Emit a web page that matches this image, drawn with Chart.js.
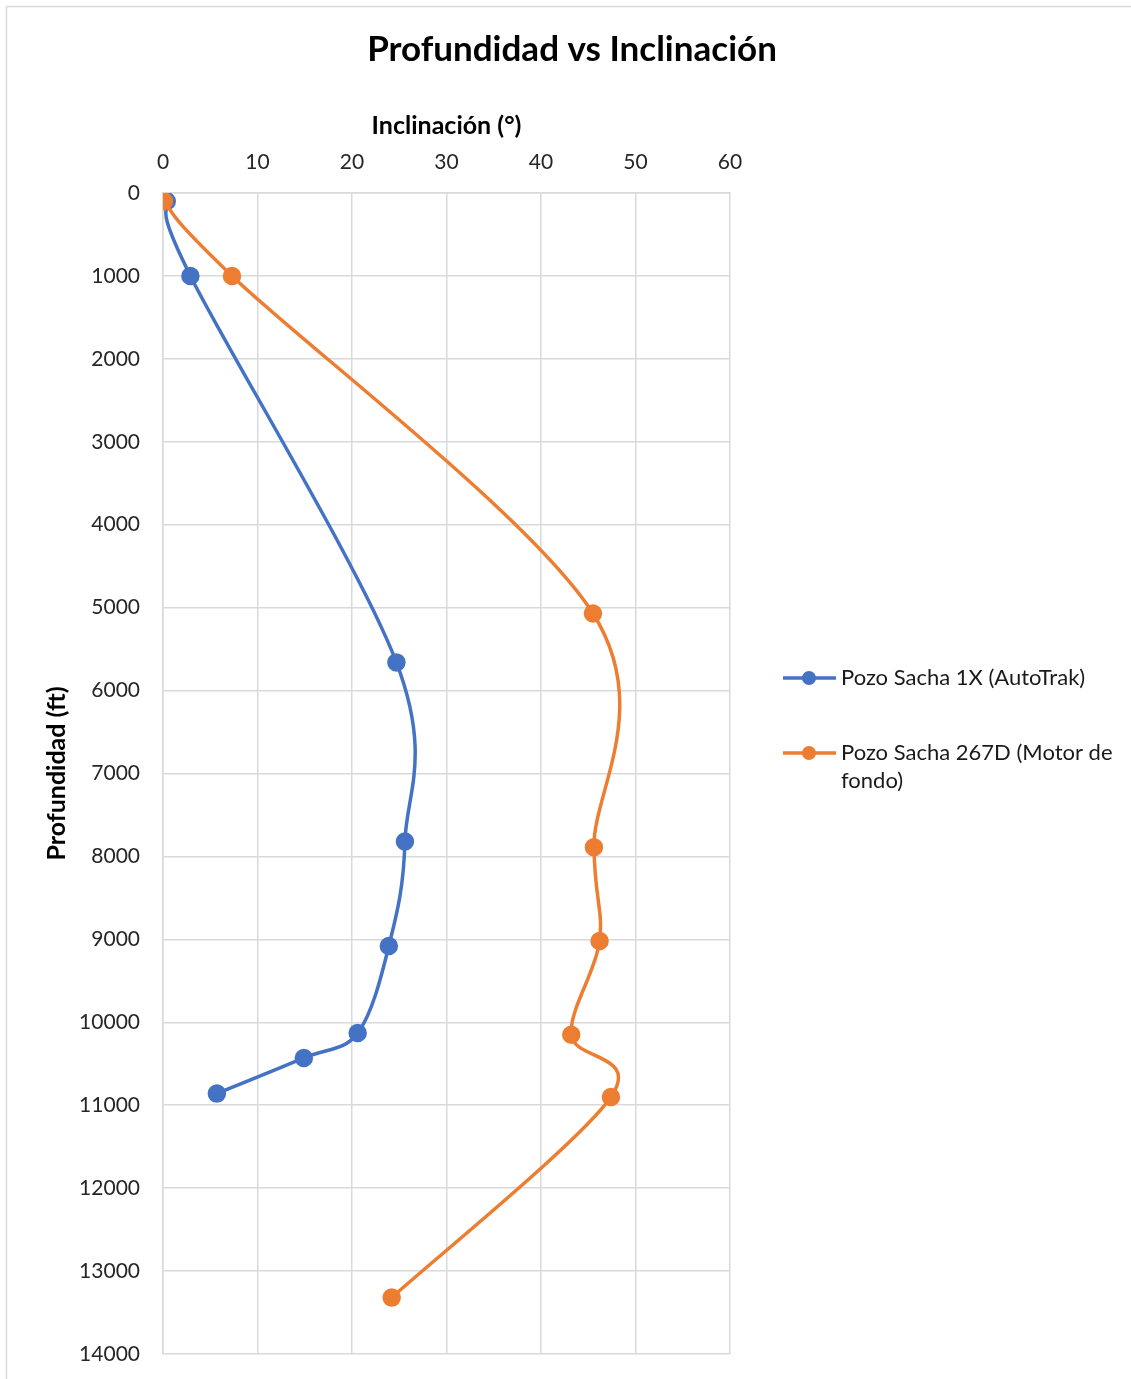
<!DOCTYPE html>
<html>
<head>
<meta charset="utf-8">
<script src="https://cdn.jsdelivr.net/npm/chart.js@4.4.1/dist/chart.umd.min.js"></script>
<style>
  html, body { margin: 0; padding: 0; background: #fff; }
  #wrap { width: 1131px; height: 1379px; position: relative; }
</style>
</head>
<body>
<div id="wrap"><canvas id="chart"></canvas></div>
<script>
// data
const chartTitle = "Profundidad vs Inclinación";
const seriesNames = ["Pozo Sacha 1X (AutoTrak)", "Pozo Sacha 267D (Motor de fondo)"];
const seriesColors = ["#4472C4", "#ED7D31"];

const sacha1xIncl = [0.4, 2.9, 24.7, 25.6, 23.9, 20.6, 14.9, 5.7];
const sacha1xDepth = [100, 1000, 5660, 7820, 9080, 10130, 10430, 10860];

const sacha267dIncl = [0.1, 7.3, 45.5, 45.6, 46.2, 43.2, 47.4, 24.2];
const sacha267dDepth = [100, 1000, 5070, 7890, 9020, 10150, 10900, 13320];

const inclTicks = [0, 60, 10];     // min, max, step
const depthTicks = [0, 14000, 1000];

function toPoints(xs, ys) {
    return xs.map((x, i) => ({ x: x, y: ys[i] }));
}

// excel style smoothing: plain catmull-rom (1/6 of neighbour chord), not the
// distance weighted one chart.js uses
const excelSmooth = {
    id: "excelSmooth",
    beforeDatasetDraw(chart, args) {
        const pts = args.meta.data;
        const k = 1 / 6;
        for (let i = 0; i < pts.length; i++) {
            const p = pts[i];
            const prev = pts[i - 1] || p;
            const next = pts[i + 1] || p;
            const dx = (next.x - prev.x) * k;
            const dy = (next.y - prev.y) * k;
            p.cp1x = p.x - dx;
            p.cp1y = p.y - dy;
            p.cp2x = p.x + dx;
            p.cp2y = p.y + dy;
        }
        args.meta.dataset._pointsUpdated = true;
    }
};

// chart frame + main title
const frame = {
    id: "frame",
    beforeDraw(chart) {
        const ctx = chart.ctx;
        ctx.save();
        ctx.strokeStyle = "#d9d9d9";
        ctx.lineWidth = 1.5;
        ctx.strokeRect(6.5, 6.5, chart.width + 20, chart.height + 20);
        ctx.restore();
    },
    afterDraw(chart) {
        const ctx = chart.ctx;
        ctx.save();
        ctx.fillStyle = "#000";
        ctx.font = "bold 35px Lato";
        ctx.textAlign = "center";
        ctx.textBaseline = "middle";
        ctx.fillText(chartTitle, 572, 50);
        ctx.restore();
    }
};

// legend on the right, with wrapped text
const sideLegend = {
    id: "sideLegend",
    afterDraw(chart) {
        const ctx = chart.ctx;
        const x0 = 783, y0 = 678, gap = 75, lineH = 28, maxW = 285;
        ctx.save();
        ctx.font = "22px Lato";
        ctx.textBaseline = "middle";
        chart.data.datasets.forEach((ds, i) => {
            const y = y0 + i * gap;
            ctx.strokeStyle = ds.borderColor;
            ctx.lineWidth = 3.5;
            ctx.beginPath();
            ctx.moveTo(x0, y);
            ctx.lineTo(x0 + 53, y);
            ctx.stroke();
            ctx.fillStyle = ds.backgroundColor;
            ctx.beginPath();
            ctx.arc(x0 + 26, y, 7, 0, Math.PI * 2);
            ctx.fill();

            // wrap words
            const words = ds.label.split(" ");
            const lines = [];
            let cur = "";
            words.forEach(w => {
                const test = cur ? cur + " " + w : w;
                if (ctx.measureText(test).width > maxW && cur) {
                    lines.push(cur);
                    cur = w;
                } else {
                    cur = test;
                }
            });
            lines.push(cur);
            ctx.fillStyle = "#1a1a1a";
            lines.forEach((l, j) => ctx.fillText(l, x0 + 58, y + j * lineH));
        });
        ctx.restore();
    }
};

Chart.defaults.font.family = "Lato";
Chart.defaults.color = "#262626";

new Chart(document.getElementById("chart"), {
    type: "scatter",
    data: {
        datasets: [
            {
                label: seriesNames[0],
                data: toPoints(sacha1xIncl, sacha1xDepth),
                borderColor: seriesColors[0],
                backgroundColor: seriesColors[0],
                showLine: true,
                tension: 0.4,
                borderWidth: 3.5,
                pointRadius: 7.5,
                pointHoverRadius: 7.5,
                order: 1
            },
            {
                label: seriesNames[1],
                data: toPoints(sacha267dIncl, sacha267dDepth),
                borderColor: seriesColors[1],
                backgroundColor: seriesColors[1],
                showLine: true,
                tension: 0.4,
                borderWidth: 3.5,
                pointRadius: 7.5,
                pointHoverRadius: 7.5,
                order: 0
            }
        ]
    },
    options: {
        responsive: true,
        maintainAspectRatio: false,
        animation: false,
        layout: { padding: { left: 0, top: 0, right: 401, bottom: 25 } },
        plugins: {
            legend: { display: false },
            title: { display: false },
            tooltip: { enabled: false }
        },
        scales: {
            x: {
                type: "linear",
                position: "top",
                min: inclTicks[0],
                max: inclTicks[1],
                ticks: { stepSize: inclTicks[2], padding: 18, font: { size: 21 } },
                grid: { color: "#d9d9d9", lineWidth: 1.5, drawTicks: false },
                border: { color: "#d9d9d9", width: 1.5 },
                title: {
                    display: true,
                    text: "Inclinación (°)",
                    color: "#000",
                    font: { size: 25, weight: "bold" },
                    padding: { top: 111, bottom: 0 }
                },
                afterFit(scale) { scale.height = 193; }
            },
            y: {
                type: "linear",
                position: "left",
                reverse: true,
                min: depthTicks[0],
                max: depthTicks[1],
                ticks: {
                    stepSize: depthTicks[2],
                    padding: 23,
                    font: { size: 21 },
                    callback: v => String(v)
                },
                grid: { color: "#d9d9d9", lineWidth: 1.5, drawTicks: false },
                border: { color: "#d9d9d9", width: 1.5 },
                title: {
                    display: true,
                    text: "Profundidad (ft)",
                    color: "#000",
                    font: { size: 25, weight: "bold" },
                    padding: { top: 42, bottom: 0 }
                },
                afterFit(scale) {
                    scale.width = 163;
                    // tick padding would otherwise eat into the bottom space
                    scale.paddingTop = 12;
                    scale.paddingBottom = 12;
                }
            }
        }
    },
    plugins: [excelSmooth, frame, sideLegend]
});
</script>
</body>
</html>
